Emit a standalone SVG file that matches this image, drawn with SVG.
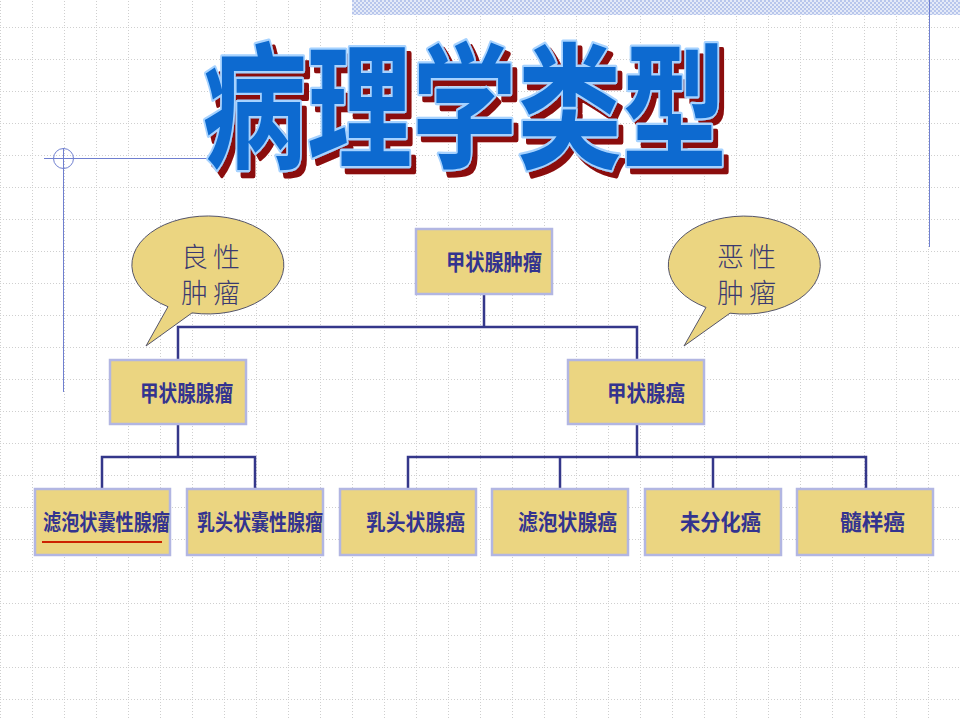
<svg xmlns="http://www.w3.org/2000/svg" width="960" height="720" viewBox="0 0 960 720">
<defs>
<pattern id="grid" x="0" y="27" width="32" height="32" patternUnits="userSpaceOnUse">
<line x1="0.5" y1="0" x2="0.5" y2="32" stroke="#CFCFCF" stroke-width="1" stroke-dasharray="1,2"/>
<line x1="0" y1="0.5" x2="32" y2="0.5" stroke="#CFCFCF" stroke-width="1" stroke-dasharray="1,2"/>
</pattern>
<pattern id="band" x="0" y="0" width="4" height="4" patternUnits="userSpaceOnUse">
<rect width="4" height="4" fill="#E4EAF8"/>
<rect width="2" height="2" fill="#B8C6EC"/>
<rect x="2" y="2" width="2" height="2" fill="#B8C6EC"/>
</pattern>
<filter id="shadow" filterUnits="userSpaceOnUse" x="150" y="0" width="650" height="230">
<feOffset in="SourceAlpha" dx="5" dy="6" result="off"/>
<feFlood flood-color="#8B0A0A"/>
<feComposite in2="off" operator="in" result="sh"/>
<feMerge><feMergeNode in="sh"/><feMergeNode in="SourceGraphic"/></feMerge>
</filter>
<style>
.box{fill:#EBD581;stroke:#B2B6E2;stroke-width:2.5}
.bt{font-family:"Noto Sans CJK SC","Noto Sans CJK TC",sans-serif;font-weight:700;font-size:22px;fill:#33338F}
.conn{fill:none;stroke:#34378A;stroke-width:2.5}
.bub{fill:#EBD581;stroke:#55556A;stroke-width:1}
.bubt{font-family:"Noto Sans CJK SC",sans-serif;font-weight:300;font-size:27px;fill:#3A3A70;letter-spacing:5px}
.title{font-family:"Noto Sans CJK SC","Noto Sans CJK JP",sans-serif;font-weight:600;font-size:105px}
.deco{stroke:#6F7FD0;stroke-width:1;fill:none}
</style>
</defs>
<rect width="960" height="720" fill="#FFFFFF"/>
<rect width="960" height="720" fill="url(#grid)"/>
<rect x="352" y="0" width="608" height="15" fill="url(#band)"/>
<line class="deco" x1="929.5" y1="0" x2="929.5" y2="247"/>
<line class="deco" x1="44" y1="158.5" x2="230" y2="158.5"/>
<line class="deco" x1="63.5" y1="148" x2="63.5" y2="392"/>
<circle class="deco" cx="63.5" cy="158.5" r="10"/>

<g id="title" filter="url(#shadow)">
<text class="title" transform="translate(202,158) scale(1,1.3)" x="0" y="0" fill="#0A6AD0" stroke="#A6D2FF" stroke-width="3.5" paint-order="stroke" stroke-linejoin="round">病理学类型</text>
</g>

<g id="connectors">
<polyline class="conn" points="484,294 484,327"/>
<polyline class="conn" points="178,360 178,327 637,327 637,360"/>
<polyline class="conn" points="178,424 178,457"/>
<polyline class="conn" points="102,489 102,457 255,457 255,489"/>
<polyline class="conn" points="637,424 637,457"/>
<polyline class="conn" points="408,489 408,457 866,457 866,489"/>
<polyline class="conn" points="560,457 560,489"/>
<polyline class="conn" points="713,457 713,489"/>
</g>

<g id="bubble-benign">
<path class="bub" d="M168,306.7 L146,346 L192,312.9 A76,49 0 1 0 168,306.7 Z"/>
<text class="bubt" x="181" y="267">良性</text>
<text class="bubt" x="181" y="303">肿瘤</text>
</g>
<g id="bubble-malignant">
<path class="bub" d="M706,307.4 L684,346 L730,313.2 A76,49 0 1 0 706,307.4 Z"/>
<text class="bubt" x="717" y="267">恶性</text>
<text class="bubt" x="717" y="303">肿瘤</text>
</g>

<g id="n-top">
<rect class="box" x="416" y="229" width="136" height="65"/>
<text class="bt" x="446" y="270" textLength="96" lengthAdjust="spacingAndGlyphs">甲状腺肿瘤</text>
</g>
<g id="n-adenoma">
<rect class="box" x="110" y="360" width="136" height="64"/>
<text class="bt" x="140" y="401" textLength="93" lengthAdjust="spacingAndGlyphs">甲状腺腺瘤</text>
</g>
<g id="n-cancer">
<rect class="box" x="568" y="360" width="136" height="64"/>
<text class="bt" x="607" y="401" textLength="78" lengthAdjust="spacingAndGlyphs">甲状腺癌</text>
</g>
<g id="n-b1">
<rect class="box" x="35" y="489" width="135" height="66"/>
<text class="bt" x="43" y="530" textLength="127" lengthAdjust="spacingAndGlyphs">滤泡状囊性腺瘤</text>
<line x1="42" y1="542" x2="162" y2="542" stroke="#CC2200" stroke-width="2"/>
</g>
<g id="n-b2">
<rect class="box" x="187" y="489" width="136" height="66"/>
<text class="bt" x="197" y="530" textLength="126" lengthAdjust="spacingAndGlyphs">乳头状囊性腺瘤</text>
</g>
<g id="n-b3">
<rect class="box" x="340" y="489" width="136" height="66"/>
<text class="bt" x="366" y="530" textLength="99" lengthAdjust="spacingAndGlyphs">乳头状腺癌</text>
</g>
<g id="n-b4">
<rect class="box" x="492" y="489" width="136" height="66"/>
<text class="bt" x="518" y="530" textLength="99" lengthAdjust="spacingAndGlyphs">滤泡状腺癌</text>
</g>
<g id="n-b5">
<rect class="box" x="645" y="489" width="136" height="66"/>
<text class="bt" x="680" y="530" textLength="81" lengthAdjust="spacingAndGlyphs">未分化癌</text>
</g>
<g id="n-b6">
<rect class="box" x="797" y="489" width="136" height="66"/>
<text class="bt" x="840" y="530" textLength="65" lengthAdjust="spacingAndGlyphs">髓样癌</text>
</g>
</svg>
